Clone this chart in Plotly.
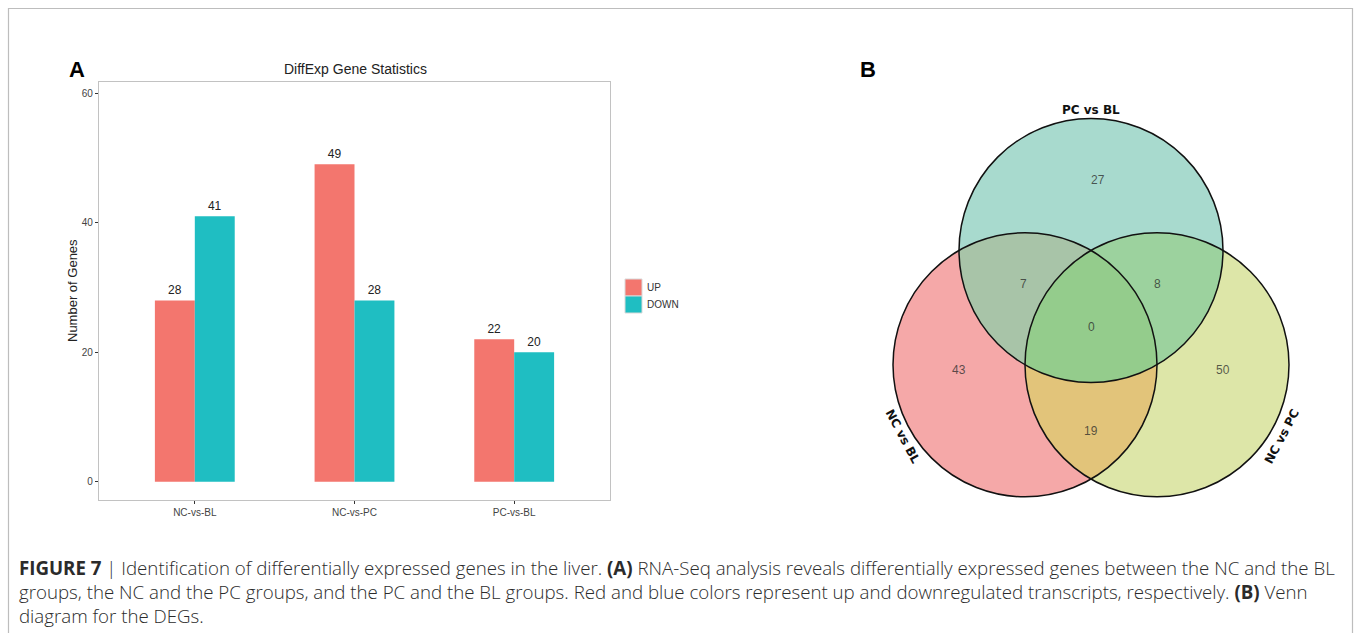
import numpy as np
import plotly.graph_objects as go

W, H = 1355, 633

# ---------------- data ----------------
categories = ["NC-vs-BL", "NC-vs-PC", "PC-vs-BL"]
up_counts = [28, 49, 22]
down_counts = [41, 28, 20]
series_names = ["UP", "DOWN"]
y_tick_vals = [0, 20, 40, 60]

venn_set_names = ["NC vs BL", "PC vs BL", "NC vs PC"]
venn_region_keys = ["100", "010", "001", "110", "011", "101", "111"]
venn_region_counts = [43, 27, 50, 7, 8, 19, 0]

caption_lines = [
    "<b>FIGURE 7</b> | Identification of differentially expressed genes in the liver. <b>(A)</b> RNA-Seq analysis reveals differentially expressed genes between the NC and the BL",
    "groups, the NC and the PC groups, and the PC and the BL groups. Red and blue colors represent up and downregulated transcripts, respectively. <b>(B)</b> Venn",
    "diagram for the DEGs.",
]

# ---------------- styles / layout ----------------
BAR_COLORS = ["#F3766E", "#1FBEC2"]
REGION_COLORS = {
    "100": "#F5A8A8", "010": "#A8DACE", "001": "#DDE6A8",
    "110": "#A8C4A8", "011": "#9CD29E", "101": "#E2C47A", "111": "#94CC8C",
}
R = 1.0
venn_centers = [(-0.5, -0.2887), (0.0, 0.5774), (0.5, -0.2887)]
region_label_pos = {
    "100": (-1.0, -0.33), "010": (0.05, 1.11), "001": (1.0, -0.33),
    "110": (-0.51, 0.32), "011": (0.5, 0.32), "101": (0.0, -0.79), "111": (0.0, 0.0),
}
set_label_pos = [(-1.43, -0.83, 62), (0.0, 1.645, 0), (1.45, -0.83, -62)]
legend_box_top = 279
legend_box_size = 17


def px_x(p):
    return p / W


def px_y(p):
    return 1 - p / H


def region_path(key):
    member = [c == "1" for c in key]
    t = np.linspace(0, 2 * np.pi, 2400, endpoint=False)
    runs = []
    for k, (cx, cy) in enumerate(venn_centers):
        px = cx + R * np.cos(t)
        py = cy + R * np.sin(t)
        ok = np.ones_like(t, dtype=bool)
        for j, (jx, jy) in enumerate(venn_centers):
            if j == k:
                continue
            inside = (px - jx) ** 2 + (py - jy) ** 2 < R * R
            ok &= inside == member[j]
        if ok.all():
            runs.append(np.column_stack([px, py]))
            continue
        f = int(np.argmin(ok))
        okr = np.roll(ok, -f)
        pxr = np.roll(px, -f)
        pyr = np.roll(py, -f)
        i = 0
        n = len(okr)
        while i < n:
            if okr[i]:
                s = i
                while i < n and okr[i]:
                    i += 1
                runs.append(np.column_stack([pxr[s:i], pyr[s:i]]))
            else:
                i += 1
    chain = runs.pop(0)
    while runs:
        end = chain[-1]
        best, bi, rev = None, None, False
        for idx, rr in enumerate(runs):
            d0 = np.hypot(*(rr[0] - end))
            d1 = np.hypot(*(rr[-1] - end))
            if best is None or d0 < best:
                best, bi, rev = d0, idx, False
            if d1 < best:
                best, bi, rev = d1, idx, True
        nxt = runs.pop(bi)
        if rev:
            nxt = nxt[::-1]
        chain = np.vstack([chain, nxt])
    pts = " L ".join(f"{x:.4f},{y:.4f}" for x, y in chain)
    return "M " + pts + " Z"


fig = go.Figure()
for name, vals, col in zip(series_names, [up_counts, down_counts], BAR_COLORS):
    fig.add_trace(go.Bar(
        x=categories, y=vals, name=name, marker=dict(color=col, line=dict(width=0)),
        text=vals, textposition="outside", textfont=dict(size=12, color="#222"),
        cliponaxis=False, xaxis="x", yaxis="y", showlegend=False,
    ))

FONT = "Liberation Sans, Arial, sans-serif"

fig.update_layout(
    width=W, height=H, margin=dict(l=0, r=0, t=0, b=0),
    paper_bgcolor="white", plot_bgcolor="white",
    font=dict(family=FONT, color="#333"),
    barmode="group", bargap=0.5, bargroupgap=0,
    xaxis=dict(domain=[px_x(99), px_x(610)], type="category", range=[-0.6, 2.6],
               showline=True, mirror=True, linecolor="#c2c2c2", linewidth=1.2,
               ticks="outside", ticklen=3, tickcolor="#333", showgrid=False,
               tickfont=dict(size=10, color="#444"), anchor="y"),
    yaxis=dict(domain=[px_y(500), px_y(82)], range=[-2.8, 61.7],
               showline=True, mirror=True, linecolor="#c2c2c2", linewidth=1.2,
               ticks="outside", ticklen=3, tickcolor="#333", showgrid=False, zeroline=False,
               tickvals=y_tick_vals, tickfont=dict(size=10, color="#444"), anchor="x"),
    xaxis2=dict(domain=[px_x(860), px_x(1322)], range=[-1.75, 1.75], visible=False, anchor="y2"),
    yaxis2=dict(domain=[px_y(515), px_y(95)], range=[-1.4265, 1.755], visible=False, anchor="x2"),
    showlegend=False,
)

shapes = []
shapes.append(dict(type="rect", xref="paper", yref="paper", x0=px_x(8.5), x1=px_x(1352.5),
                   y0=px_y(640), y1=px_y(8.5), line=dict(color="#bdbdbd", width=1.2),
                   fillcolor="rgba(0,0,0,0)", layer="below"))
# custom legend keys (ggplot-style)
for i, col in enumerate(BAR_COLORS):
    top = legend_box_top + i * legend_box_size
    shapes.append(dict(type="rect", xref="paper", yref="paper", x0=px_x(625), x1=px_x(625 + legend_box_size),
                       y0=px_y(top + legend_box_size), y1=px_y(top), fillcolor=col,
                       line=dict(color="#d9d9d9", width=1)))
for key in venn_region_keys:
    shapes.append(dict(type="path", xref="x2", yref="y2", path=region_path(key),
                       fillcolor=REGION_COLORS[key], line=dict(width=0), layer="above"))
for cx, cy in venn_centers:
    shapes.append(dict(type="circle", xref="x2", yref="y2", x0=cx - R, x1=cx + R,
                       y0=cy - R, y1=cy + R, fillcolor="rgba(0,0,0,0)",
                       line=dict(color="#111", width=1.5), layer="above"))
fig.update_layout(shapes=shapes)

ann = []
for i, name in enumerate(series_names):
    top = legend_box_top + i * legend_box_size
    ann.append(dict(text=name, x=px_x(645), y=px_y(top + legend_box_size / 2), xref="paper", yref="paper",
                    showarrow=False, font=dict(size=10, color="#333"), xanchor="left", yanchor="middle"))
ann.append(dict(text="DiffExp Gene Statistics", x=px_x(355), y=px_y(69), xref="paper", yref="paper",
                showarrow=False, font=dict(size=14, color="#222"), xanchor="center", yanchor="middle"))
ann.append(dict(text="<b>A</b>", x=px_x(67), y=px_y(70), xref="paper", yref="paper",
                showarrow=False, font=dict(size=22, color="#000"), xanchor="left", yanchor="middle"))
ann.append(dict(text="<b>B</b>", x=px_x(858), y=px_y(70), xref="paper", yref="paper",
                showarrow=False, font=dict(size=22, color="#000"), xanchor="left", yanchor="middle"))
ann.append(dict(text="Number of Genes", x=px_x(72), y=px_y(291), xref="paper", yref="paper",
                showarrow=False, textangle=-90, font=dict(size=13, color="#222"),
                xanchor="center", yanchor="middle"))
for key, cnt in zip(venn_region_keys, venn_region_counts):
    lx, ly = region_label_pos[key]
    ann.append(dict(text=str(cnt), x=lx, y=ly, xref="x2", yref="y2", showarrow=False,
                    font=dict(size=12, color="rgba(40,40,40,0.75)"), xanchor="center", yanchor="middle"))
for name, (lx, ly, ang) in zip(venn_set_names, set_label_pos):
    ann.append(dict(text="<b>" + name + "</b>", x=lx, y=ly, xref="x2", yref="y2", showarrow=False,
                    textangle=ang, font=dict(size=12, color="#111", family="DejaVu Sans, sans-serif"),
                    xanchor="center", yanchor="middle"))
for i, line in enumerate(caption_lines):
    ann.append(dict(text=line, x=px_x(17), y=px_y(567 + 24 * i), xref="paper", yref="paper",
                    showarrow=False, font=dict(size=18.7, color="#2b2b2b", family="Open Sans, sans-serif",
                                               weight=300),
                    xanchor="left", yanchor="middle", align="left"))
fig.update_layout(annotations=ann)

fig.write_html("out.html", config={"displayModeBar": False},
               post_script="document.body.style.margin='0px';document.body.style.overflow='hidden';")
